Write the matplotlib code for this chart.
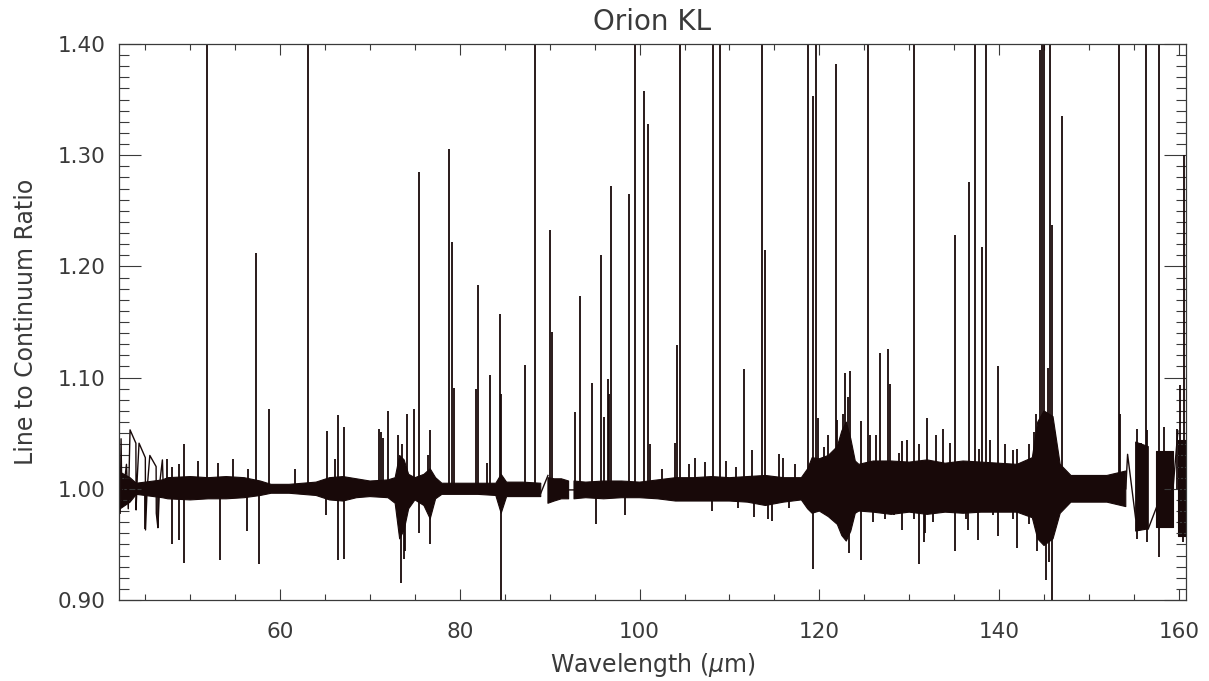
import numpy as np
import matplotlib.pyplot as plt
from matplotlib.ticker import MultipleLocator, FormatStrFormatter

# 噪声带: 波长, 上沿, 下沿 (nan = 数据缺口)
band_wl = [42.2, 43.3, 44.0, 46.9, 47.5, 50, 52, 54, 56, 57.8, 59, 61, 62.5, 64, 65.5, 67, 68.5, 70,
           72, 72.8, 73.3, 73.8, 74.3, 75, 76, 76.7, 77.3, 78, 80, 82, 84, 84.6, 85.2, 87, 89.0, np.nan,
           89.8, 90.5, 91.3, 92.1, np.nan,
           92.7, 94, 96, 98, 100, 102, 104, 106, 108, 110, 112, 114, 116, 118, 118.7, 119.2, 120, 121,
           122, 122.5, 123, 123.5, 124.0,
           124.4, 126, 128, 130, 132, 134, 136, 138, 140, 142, 143.7, 144.3, 145, 146, 146.8, 148, 150,
           152, 154.1, np.nan, 155.2, 156.6, np.nan, 157.5, 159.3, np.nan, 159.9, 160.8]
band_hi = [1.015, 1.010, 1.005, 1.008, 1.010, 1.011, 1.010, 1.011, 1.010, 1.007, 1.004, 1.004, 1.005, 1.006,
           1.010, 1.011, 1.009, 1.007, 1.008, 1.010, 1.030, 1.026, 1.013, 1.010, 1.013, 1.018, 1.010,
           1.005, 1.005, 1.005, 1.005, 1.013, 1.006, 1.006, 1.005, np.nan,
           1.010, 1.009, 1.009, 1.007, np.nan,
           1.007, 1.006, 1.007, 1.007, 1.006, 1.008, 1.010, 1.010, 1.011, 1.010, 1.011, 1.012, 1.010,
           1.010, 1.018, 1.028, 1.027, 1.030, 1.038, 1.052, 1.060, 1.045, 1.025,
           1.022, 1.025, 1.025, 1.024, 1.026, 1.023, 1.025, 1.024, 1.023, 1.022, 1.028, 1.060, 1.070,
           1.065, 1.022, 1.012, 1.012, 1.012, 1.016, np.nan, 1.042, 1.038, np.nan, 1.034, 1.034,
           np.nan, 1.044, 1.044]
band_lo = [0.982, 0.988, 0.995, 0.992, 0.991, 0.990, 0.991, 0.991, 0.992, 0.994, 0.996, 0.996, 0.995, 0.994,
           0.990, 0.989, 0.992, 0.993, 0.992, 0.987, 0.955, 0.963, 0.982, 0.990, 0.985, 0.973, 0.991,
           0.995, 0.995, 0.995, 0.994, 0.978, 0.993, 0.993, 0.993, np.nan,
           0.987, 0.989, 0.991, 0.991, np.nan,
           0.991, 0.992, 0.991, 0.992, 0.992, 0.991, 0.989, 0.989, 0.989, 0.989, 0.988, 0.985, 0.988,
           0.990, 0.982, 0.978, 0.980, 0.975, 0.968, 0.958, 0.953, 0.962, 0.978,
           0.980, 0.979, 0.977, 0.979, 0.977, 0.979, 0.978, 0.979, 0.979, 0.979, 0.974, 0.955, 0.949,
           0.955, 0.978, 0.988, 0.988, 0.988, 0.984, np.nan, 0.962, 0.964, np.nan, 0.966, 0.966,
           np.nan, 0.958, 0.958]

# 发射线: 波长, 峰值 (1.5 = 超出坐标轴)
em_wl = [47.4, 48.0, 48.7, 49.3, 50.9, 51.84, 53.1, 54.8, 56.4, 57.33, 58.73, 61.7, 63.15, 65.2, 66.1,
         66.4, 67.1, 71.0, 71.25, 71.5, 72.0, 73.1, 73.55, 74.1, 74.9, 75.4, 76.4, 76.7, 78.8, 79.1,
         79.3, 81.8, 82.05, 83.05, 83.3, 84.5, 84.6, 87.3, 88.4, 90.03, 90.2, 92.85, 93.4, 94.7, 95.7,
         96.0, 96.5, 96.6, 96.8, 98.8, 99.5, 100.5, 100.98, 101.2, 102.5, 103.9, 104.2, 104.5, 105.5,
         106.2, 107.3, 108.2, 108.9, 109.6, 110.7, 111.6, 112.5, 113.6, 114.0, 115.5, 116.0, 117.3,
         118.7, 119.3, 119.6, 119.9, 120.5, 121.0, 121.8, 122.0, 122.6,
         122.9, 123.2, 123.45, 124.6, 125.4, 125.6, 126.3, 126.8, 127.6, 127.9, 128.9, 129.2, 129.8,
         130.5, 131.1, 132.0, 133.0, 133.8, 134.5,
         135.1, 136.6, 137.3, 137.75, 138.05, 138.6, 139.0, 139.9, 140.7, 141.5, 142.0, 143.3, 143.9,
         144.1, 144.6, 144.8, 145.0, 145.45, 145.7, 145.85, 146.2, 147.0, 153.4, 153.5, 155.4, 155.8,
         156.3, 156.5, 157.8, 158.3, 159.85, 160.1, 160.6]
em_peak = [1.027, 1.020, 1.022, 1.040, 1.025, 1.5, 1.023, 1.027, 1.018, 1.212, 1.072, 1.018, 1.5, 1.052,
           1.027, 1.066, 1.056, 1.054, 1.051, 1.046, 1.070, 1.048, 1.040, 1.067, 1.072, 1.285, 1.030,
           1.053, 1.306, 1.222, 1.091, 1.090, 1.183, 1.023, 1.102, 1.157, 1.085, 1.111, 1.5, 1.233,
           1.141, 1.069, 1.173, 1.095, 1.210, 1.065, 1.099, 1.085, 1.272, 1.265, 1.5, 1.358, 1.328,
           1.040, 1.018, 1.041, 1.129, 1.5, 1.022, 1.028, 1.024, 1.5, 1.5, 1.025, 1.020, 1.108, 1.035,
           1.5, 1.215, 1.031, 1.028, 1.022, 1.5, 1.353, 1.5, 1.064,
           1.038, 1.048, 1.382, 1.062, 1.067, 1.104, 1.083, 1.106, 1.061, 1.5, 1.048, 1.048, 1.122,
           1.126, 1.094, 1.032, 1.043, 1.044, 1.5, 1.040, 1.064, 1.048, 1.054, 1.041,
           1.228, 1.276, 1.5, 1.036, 1.217, 1.5, 1.044, 1.110, 1.040, 1.035, 1.036, 1.040, 1.051,
           1.067, 1.395, 1.5, 1.5, 1.109, 1.5, 1.237, 1.051, 1.335, 1.5, 1.067, 1.054, 1.041,
           1.5, 1.053, 1.5, 1.056, 1.054, 1.093, 1.300]

# 吸收线: 波长, 最低值
ab_wl = [45.0, 46.4, 48.0, 48.75, 49.3, 53.3, 56.3, 57.7, 65.1, 66.4, 67.1, 73.4, 73.8, 73.9, 75.4, 76.7,
         84.6, 95.15, 98.4, 108.1, 111.0, 112.7, 114.3, 114.75, 116.6, 119.3, 122.4, 122.7, 123.3,
         124.6, 126.0, 127.3, 128.3, 129.2, 130.5, 131.1, 131.6, 131.8, 132.6, 134.1,
         135.1, 136.3, 136.5, 137.6, 139.3, 139.9, 140.8, 141.5, 142.0, 143.35, 144.2, 145.2, 145.6,
         145.9, 155.4, 156.5, 157.8, 159.2, 160.0, 160.5]
ab_min = [0.964, 0.965, 0.950, 0.954, 0.933, 0.936, 0.962, 0.932, 0.976, 0.936, 0.937, 0.915, 0.937,
          0.944, 0.960, 0.950, 0.85, 0.968, 0.976, 0.980, 0.983, 0.975, 0.973, 0.971, 0.983, 0.928,
          0.963, 0.958, 0.942, 0.936, 0.970, 0.973, 0.976, 0.963, 0.973, 0.932, 0.952, 0.960, 0.970,
          0.983, 0.944, 0.973, 0.963, 0.954, 0.976, 0.958, 0.979, 0.973, 0.947, 0.968, 0.944, 0.918,
          0.934, 0.85, 0.955, 0.952, 0.939, 0.970, 0.967, 0.952]

# 短波端稀疏数据及缺口处的连线
edge_wl = [42.2, 42.3, 42.4, 42.6, 42.9, 43.1, 43.3, 43.95, 43.97, 44.1, 44.3, 45.0, 45.02, 45.2, 45.5,
           46.2, 46.22, 46.4, 46.6, 46.9, 47.0, np.nan,
           89.0, 89.8, np.nan, 92.1, 92.7, np.nan,
           154.1, 154.3, 155.2, np.nan, 156.6, 157.5, np.nan, 159.3, 159.9]
edge_val = [0.978, 1.045, 0.985, 1.000, 1.022, 0.982, 1.053, 1.041, 0.981, 1.010, 1.041, 1.028, 0.963,
            1.000, 1.030, 1.020, 0.978, 0.965, 1.005, 1.026, 1.000, np.nan,
            0.996, 1.012, np.nan, 0.999, 0.999, np.nan,
            1.000, 1.031, 0.973, np.nan, 0.964, 0.983, np.nan, 0.995, 1.052]

ink = '#180909'
grey = '#3a3a3a'

fig = plt.figure(figsize=(12.09, 6.81), dpi=100)
ax = fig.add_axes([119 / 1209, 81 / 681, 1067 / 1209, 556 / 681])

ax.fill_between(band_wl, band_lo, band_hi, color=ink, lw=0.8)
ax.vlines(em_wl, 1.0, em_peak, color=ink, lw=1.3)
ax.vlines(ab_wl, ab_min, 1.0, color=ink, lw=1.3)
ax.plot(edge_wl, edge_val, color=ink, lw=1.0)

ax.set_xlim(42.07, 160.8)
ax.set_ylim(0.9, 1.4)

ax.xaxis.set_major_locator(MultipleLocator(20))
ax.xaxis.set_minor_locator(MultipleLocator(5))
ax.yaxis.set_major_locator(MultipleLocator(0.1))
ax.yaxis.set_minor_locator(MultipleLocator(0.01))
ax.yaxis.set_major_formatter(FormatStrFormatter('%.2f'))

ax.tick_params(which='both', direction='in', top=True, right=True, color=grey, width=0.8,
               labelsize=15.5, labelcolor=grey)
ax.tick_params(axis='x', which='major', length=8, pad=16)
ax.tick_params(axis='x', which='minor', length=4)
ax.tick_params(axis='y', which='major', length=16, pad=10)
ax.tick_params(axis='y', which='minor', length=7.5)
for s in ax.spines.values():
    s.set_color(grey)
    s.set_linewidth(0.9)

# 顶部刻度标签贴在坐标框内
ylabels = ax.get_yticklabels()
ylabels[-1].set_va('top')

ax.set_title('Orion KL', fontsize=20, color=grey, pad=10)
ax.set_xlabel(r'Wavelength ($\mu$m)', fontsize=17, color=grey, labelpad=6)
ax.set_ylabel('Line to Continuum Ratio', fontsize=17, color=grey, labelpad=14)

fig.savefig('out.png', dpi=100)
